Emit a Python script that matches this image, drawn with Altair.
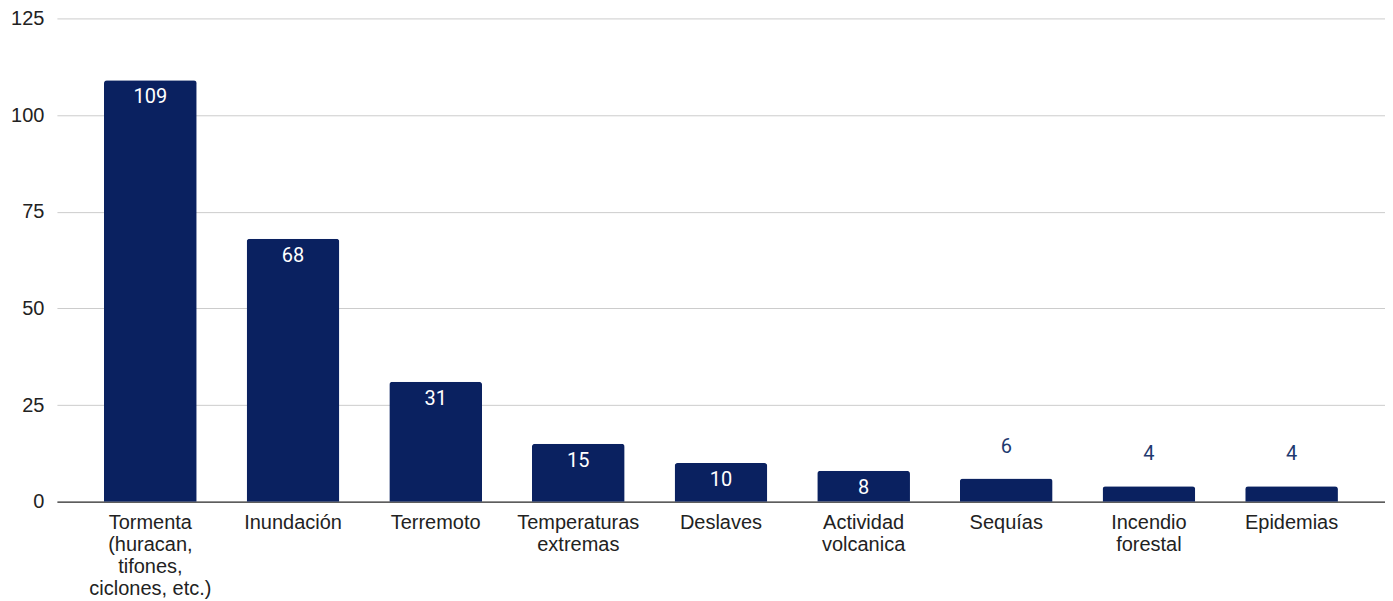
import altair as alt
import pandas as pd

categories = [
    "Tormenta\n(huracan,\ntifones,\nciclones, etc.)",
    "Inundación",
    "Terremoto",
    "Temperaturas\nextremas",
    "Deslaves",
    "Actividad\nvolcanica",
    "Sequías",
    "Incendio\nforestal",
    "Epidemias",
]
values = [109, 68, 31, 15, 10, 8, 6, 4, 4]

df = pd.DataFrame({"cat": categories, "val": values})
df["inside"] = df["val"] >= 8

BAR = "#0a2160"

x = alt.X("cat:N", sort=None, title=None,
          scale=alt.Scale(paddingInner=0.35, paddingOuter=0.33),
          axis=alt.Axis(labelAngle=0, labelExpr="split(datum.label, '\\n')",
                        labelFont="Liberation Sans", labelFontSize=20,
                        labelColor="#222222", labelLineHeight=22,
                        labelPadding=11, ticks=False, domain=True,
                        domainColor="#333333", domainWidth=1.3,
                        grid=False, labelBaseline="top"))
y = alt.Y("val:Q", title=None,
          scale=alt.Scale(domain=[0, 125], nice=False),
          axis=alt.Axis(values=[0, 25, 50, 75, 100, 125], ticks=False,
                        domain=False, labelFont="Liberation Sans",
                        labelFontSize=20, labelColor="#222222",
                        labelPadding=13, gridColor="#cccccc", gridWidth=1))

base = alt.Chart(df)

bars = base.mark_bar(color=BAR, cornerRadiusTopLeft=3,
                     cornerRadiusTopRight=3).encode(x=x, y=y)

inside_labels = base.transform_filter("datum.inside").mark_text(
    baseline="middle", dy=17, color="white", font="Roboto", fontSize=20
).encode(x=alt.X("cat:N", sort=None), y="val:Q", text="val:Q")

outside_labels = base.transform_filter("!datum.inside").mark_text(
    baseline="middle", dy=-32, color="#1f3a70", font="Roboto", fontSize=20
).encode(x=alt.X("cat:N", sort=None), y="val:Q", text="val:Q")

chart = (bars + inside_labels + outside_labels).properties(
    width=1330, height=484,
    autosize=alt.AutoSizeParams(type="none"),
    padding={"left": 49, "top": 10, "right": 0, "bottom": 100},
).configure(background="white").configure_view(stroke=None)

chart.save("out.html", embed_options={"renderer": "svg", "actions": False})
